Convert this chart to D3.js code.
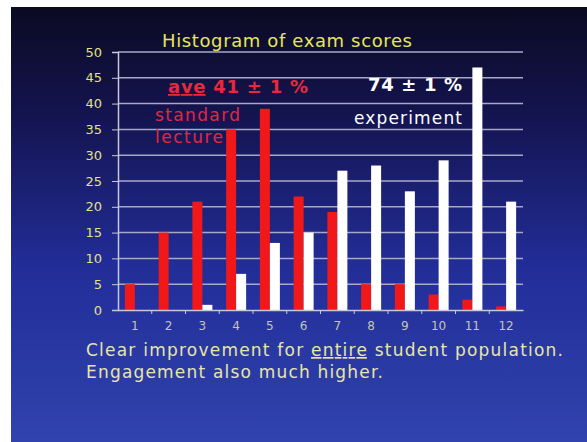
<!DOCTYPE html>
<html>
<head>
<meta charset="utf-8">
<script src="https://cdn.jsdelivr.net/npm/d3@7"></script>
<style>
  body { margin: 0; background: #ffffff; }
  svg { display: block; }
</style>
</head>
<body>
<div id="chart"></div>
<script>
// data
var bins = ["1", "2", "3", "4", "5", "6", "7", "8", "9", "10", "11", "12"];
var lecture = [5, 15, 21, 35, 39, 22, 19, 5, 5, 3, 2, 0.7];
var experiment = [0, 0, 1, 7, 13, 15, 27, 28, 23, 29, 47, 21];
var yTicks = [0, 5, 10, 15, 20, 25, 30, 35, 40, 45, 50];

var drawChart = function() {

    const width = 587, height = 442;
    const left = 118, right = 523, top = 52, bottom = 310;
    var fontFamily = "'DejaVu Sans', Verdana, sans-serif";
    var yellow = "#e2e08a";
    var red = "#f01818";

    var svg = d3.select("#chart").append("svg")
        .attr("width", width)
        .attr("height", height);

    // slide background
    var grad = svg.append("defs").append("linearGradient")
        .attr("id", "bg").attr("x1", 0).attr("y1", 0).attr("x2", 0).attr("y2", 1);
    grad.append("stop").attr("offset", "0%").attr("stop-color", "#0b0a22");
    grad.append("stop").attr("offset", "25%").attr("stop-color", "#141450");
    grad.append("stop").attr("offset", "60%").attr("stop-color", "#222d98");
    grad.append("stop").attr("offset", "100%").attr("stop-color", "#3043ae");

    svg.append("rect").attr("x", 11).attr("y", 7)
        .attr("width", width - 11).attr("height", height - 7)
        .attr("fill", "url(#bg)");

    var x = d3.scaleBand().domain(bins).range([left, right]);
    var y = d3.scaleLinear().domain([0, 50]).range([bottom, top]);
    var barW = 10;

    // gridlines
    svg.append("g").selectAll("line")
        .data(yTicks.filter(function(d) { return d > 0; }))
        .enter().append("line")
        .attr("x1", left).attr("x2", right)
        .attr("y1", function(d) { return y(d); })
        .attr("y2", function(d) { return y(d); })
        .attr("stroke", "#a8a8c8").attr("stroke-width", 1.5);

    // y axis
    var yAxis = svg.append("g")
        .attr("transform", "translate(" + left + ",0)")
        .call(d3.axisLeft(y).tickValues(yTicks).tickSize(6).tickPadding(10));
    yAxis.select(".domain").attr("stroke", "#c8c8dc").attr("stroke-width", 1.5);
    yAxis.selectAll(".tick line").attr("stroke", "#c8c8dc");
    yAxis.selectAll("text")
        .attr("fill", yellow).attr("font-family", fontFamily).attr("font-size", 13);

    // bars
    svg.append("g").selectAll("rect")
        .data(lecture)
        .enter().append("rect")
        .attr("x", function(d, i) { return x(bins[i]) + x.bandwidth() / 2 - barW; })
        .attr("y", function(d) { return y(d); })
        .attr("width", barW)
        .attr("height", function(d) { return bottom - y(d); })
        .attr("fill", red);

    svg.append("g").selectAll("rect")
        .data(experiment)
        .enter().append("rect")
        .attr("x", function(d, i) { return x(bins[i]) + x.bandwidth() / 2; })
        .attr("y", function(d) { return y(d); })
        .attr("width", barW)
        .attr("height", function(d) { return bottom - y(d); })
        .attr("fill", "#ffffff");

    // x axis
    var xAxis = svg.append("g")
        .attr("transform", "translate(0," + bottom + ")")
        .call(d3.axisBottom(x).tickSize(0).tickPadding(11));
    xAxis.select(".domain").attr("stroke", "#c8c8dc").attr("stroke-width", 1.5);
    xAxis.selectAll("text")
        .attr("fill", "#c4c6b0").attr("font-family", fontFamily).attr("font-size", 12);
    svg.append("g").selectAll("line")
        .data(bins.slice(1))
        .enter().append("line")
        .attr("x1", function(d) { return x(d); })
        .attr("x2", function(d) { return x(d); })
        .attr("y1", bottom).attr("y2", bottom + 4)
        .attr("stroke", "#c8c8dc");

    // annotations
    svg.append("text").attr("x", 162).attr("y", 47)
        .attr("font-family", fontFamily).attr("font-size", 18)
        .attr("textLength", 250).attr("lengthAdjust", "spacing")
        .attr("fill", "#e6e65a").text("Histogram of exam scores");

    var ave = svg.append("text").attr("x", 168).attr("y", 93)
        .attr("font-family", fontFamily).attr("font-size", 18)
        .attr("textLength", 140).attr("lengthAdjust", "spacing")
        .attr("font-weight", "bold").attr("fill", "#e8283c");
    ave.append("tspan").attr("text-decoration", "underline").text("ave");
    ave.append("tspan").text(" 41 \u00b1 1 %");

    svg.append("text").attr("x", 155).attr("y", 121)
        .attr("font-family", fontFamily).attr("font-size", 17)
        .attr("textLength", 85).attr("lengthAdjust", "spacing")
        .attr("fill", "#e02840").text("standard");
    svg.append("text").attr("x", 155).attr("y", 143)
        .attr("font-family", fontFamily).attr("font-size", 17)
        .attr("textLength", 68).attr("lengthAdjust", "spacing")
        .attr("fill", "#e02840").text("lecture");

    svg.append("text").attr("x", 368).attr("y", 91)
        .attr("font-family", fontFamily).attr("font-size", 18)
        .attr("textLength", 94).attr("lengthAdjust", "spacing")
        .attr("font-weight", "bold").attr("fill", "#ffffff").text("74 \u00b1 1 %");
    svg.append("text").attr("x", 354).attr("y", 124)
        .attr("font-family", fontFamily).attr("font-size", 17)
        .attr("textLength", 108).attr("lengthAdjust", "spacing")
        .attr("fill", "#ffffff").text("experiment");

    var line1 = svg.append("text").attr("x", 86).attr("y", 356)
        .attr("font-family", fontFamily).attr("font-size", 17)
        .attr("textLength", 477).attr("lengthAdjust", "spacing")
        .attr("fill", "#e6e6a6");
    line1.append("tspan").text("Clear improvement for ");
    line1.append("tspan").attr("text-decoration", "underline").text("entire");
    line1.append("tspan").text(" student population.");

    svg.append("text").attr("x", 86).attr("y", 378)
        .attr("font-family", fontFamily).attr("font-size", 17)
        .attr("textLength", 297).attr("lengthAdjust", "spacing")
        .attr("fill", "#e6e6a6").text("Engagement also much higher.");
}

window.addEventListener("load", drawChart)
</script>
</body>
</html>
